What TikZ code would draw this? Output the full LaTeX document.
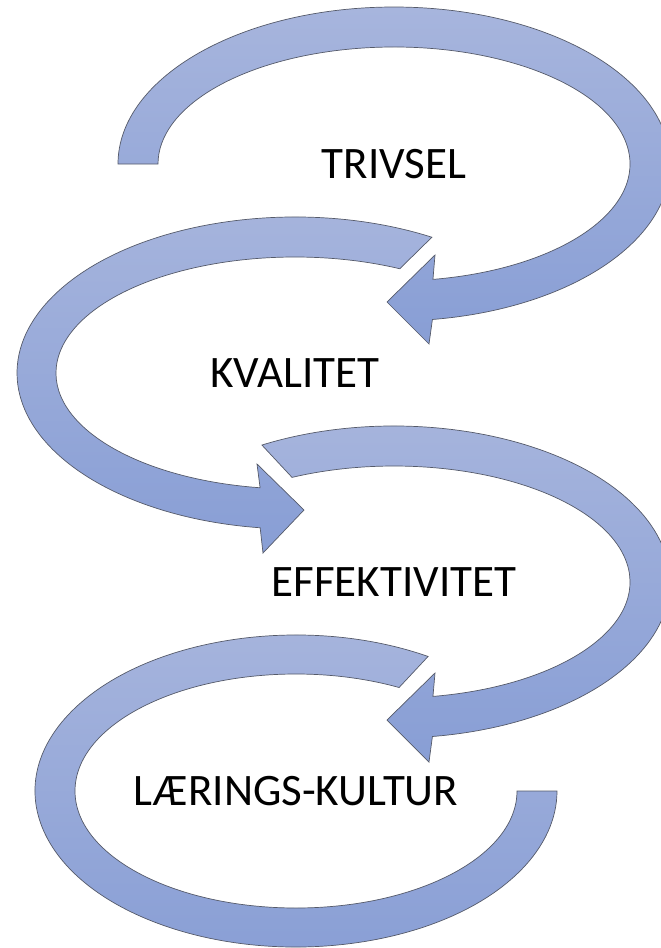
\documentclass[tikz,border=0pt]{standalone}
\usepackage{fontspec}
\setmainfont{Carlito}
\usetikzlibrary{calc}
\definecolor{bandtop}{RGB}{167,181,221}
\definecolor{bandbottom}{RGB}{136,158,213}
\definecolor{bandline}{RGB}{85,90,105}
\tikzset{
    band/.style={top color=bandtop, bottom color=bandbottom, draw=bandline, line width=0.7},
    word/.style={inner sep=0pt, font=\fontsize{45}{54}\selectfont}
}

\begin{document}
\begin{tikzpicture}[x=1pt,y=1pt]
    \useasboundingbox (0,0) rectangle (661,-948);
    \coordinate (c1) at (394,-164);
    \coordinate (c2) at (295,-373);
    \coordinate (c3) at (394,-582);
    \coordinate (c4) at (296,-791);

    \path[band] ($(c1)+(180:276 and 157)$) arc[start angle=180, end angle=-82, x radius=276, y radius=157]
        -- ($(c1)+(35,-180)$) -- ($(c1)+(-7,-138)$) -- ($(c1)+(41,-91)$)
        -- ($(c1)+(-80.5:236 and 117)$) arc[start angle=-80.5, end angle=180, x radius=236, y radius=117] -- cycle;
    \path[band] ($(c2)+(60.5:278 and 156)$) arc[start angle=60.5, end angle=262.8, x radius=278, y radius=156]
        -- ($(c2)+(-32,-180)$) -- ($(c2)+(9,-137)$) -- ($(c2)+(-38,-91)$)
        -- ($(c2)+(261.6:239 and 116)$) arc[start angle=261.6, end angle=64, x radius=239, y radius=116] -- cycle;
    \path[band] ($(c3)+(118.6:276 and 156)$) arc[start angle=118.6, end angle=-82, x radius=276, y radius=156]
        -- ($(c3)+(35,-180)$) -- ($(c3)+(-7,-138)$) -- ($(c3)+(41,-91)$)
        -- ($(c3)+(-80.5:236 and 116)$) arc[start angle=-80.5, end angle=115.6, x radius=236, y radius=116] -- cycle;
    \path[band] ($(c4)+(59.6:261 and 156)$) arc[start angle=59.6, end angle=360, x radius=261, y radius=156]
        -- ($(c4)+(360:221 and 117)$) arc[start angle=360, end angle=62.2, x radius=221, y radius=117] -- cycle;

    \node[word] (trivsel) at (c1) {TRIVSEL};
    \node[word] (kvalitet) at (c2) {KVALITET};
    \node[word] (effektivitet) at (c3) {EFFEKTIVITET};
    \node[word] (laering) at (c4) {LÆRINGS-KULTUR};
\end{tikzpicture}
\end{document}
